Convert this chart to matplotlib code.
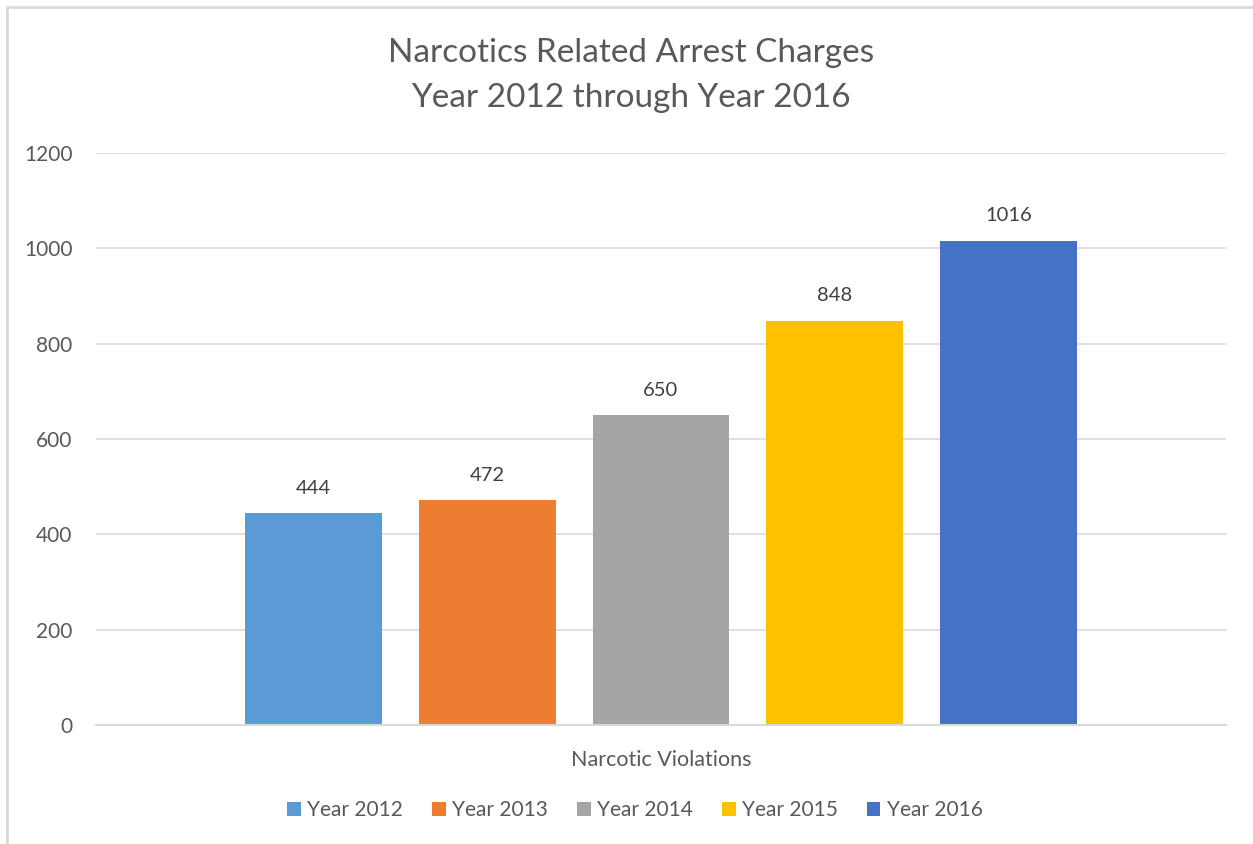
import matplotlib
matplotlib.use("Agg")
import matplotlib.pyplot as plt
from matplotlib.patches import Rectangle, Patch

plt.rcParams['font.family'] = ['Lato', 'DejaVu Sans']

# Data
series = ["Year 2012", "Year 2013", "Year 2014", "Year 2015", "Year 2016"]
values = [444, 472, 650, 848, 1016]
category = "Narcotic Violations"
yticks = [0, 200, 400, 600, 800, 1000, 1200]
colors = ["#5B9BD5", "#ED7D31", "#A5A5A5", "#FFC000", "#4472C4"]
text_color = "#595959"

W, H = 1253, 844
fig = plt.figure(figsize=(W / 100, H / 100), dpi=100)
fig.patch.set_facecolor("white")

# Chart-area border
fig.patches.append(Rectangle((7 / W, -0.01), 1.05, 1 - 7 / H + 0.01,
                             transform=fig.transFigure, fill=False,
                             edgecolor="#D9D9D9", linewidth=2.0))

ax_left, ax_right = 96, 1226
ax_top, ax_bottom = 153, 725
ax = fig.add_axes([ax_left / W, 1 - ax_bottom / H,
                   (ax_right - ax_left) / W, (ax_bottom - ax_top) / H])

x = list(range(len(values)))
bars = ax.bar(x, values, width=0.787, color=colors, zorder=3)
for xi, v in zip(x, values):
    ax.annotate(str(v), (xi, v), xytext=(0, 18), textcoords="offset points",
                ha="center", va="center", fontsize=14.5, color="#404040")

ax.set_xlim(-1.25, 5.25)
ax.set_ylim(0, 1200)
ax.set_yticks(yticks)
ax.set_yticklabels([str(t) for t in yticks], fontsize=15, color=text_color)
ax.set_xticks([2])
ax.set_xticklabels([category], fontsize=15.5, color=text_color)
ax.tick_params(axis="both", length=0)
ax.tick_params(axis="y", pad=17)
ax.tick_params(axis="x", pad=18)
ax.grid(axis="y", color="#D9D9D9", linewidth=1.2, zorder=0)
for side in ["top", "right", "left"]:
    ax.spines[side].set_visible(False)
ax.spines["bottom"].set_color("#D9D9D9")
ax.spines["bottom"].set_linewidth(1.5)
ax.spines["bottom"].set_zorder(4)

fig.text(631 / W, 1 - 53 / H, "Narcotics Related Arrest Charges",
         ha="center", va="center", fontsize=24, color=text_color)
fig.text(631 / W, 1 - 98 / H, "Year 2012 through Year 2016",
         ha="center", va="center", fontsize=24, color=text_color)

handles = [Patch(facecolor=c, edgecolor="none") for c in colors]
fig.legend(handles, series, loc="center", bbox_to_anchor=(635 / W, 1 - 810 / H),
           ncol=5, frameon=False, fontsize=15, labelcolor=text_color,
           handlelength=0.65, handleheight=0.65, handletextpad=0.3,
           columnspacing=1.4)

fig.savefig("out.png", dpi=100)
